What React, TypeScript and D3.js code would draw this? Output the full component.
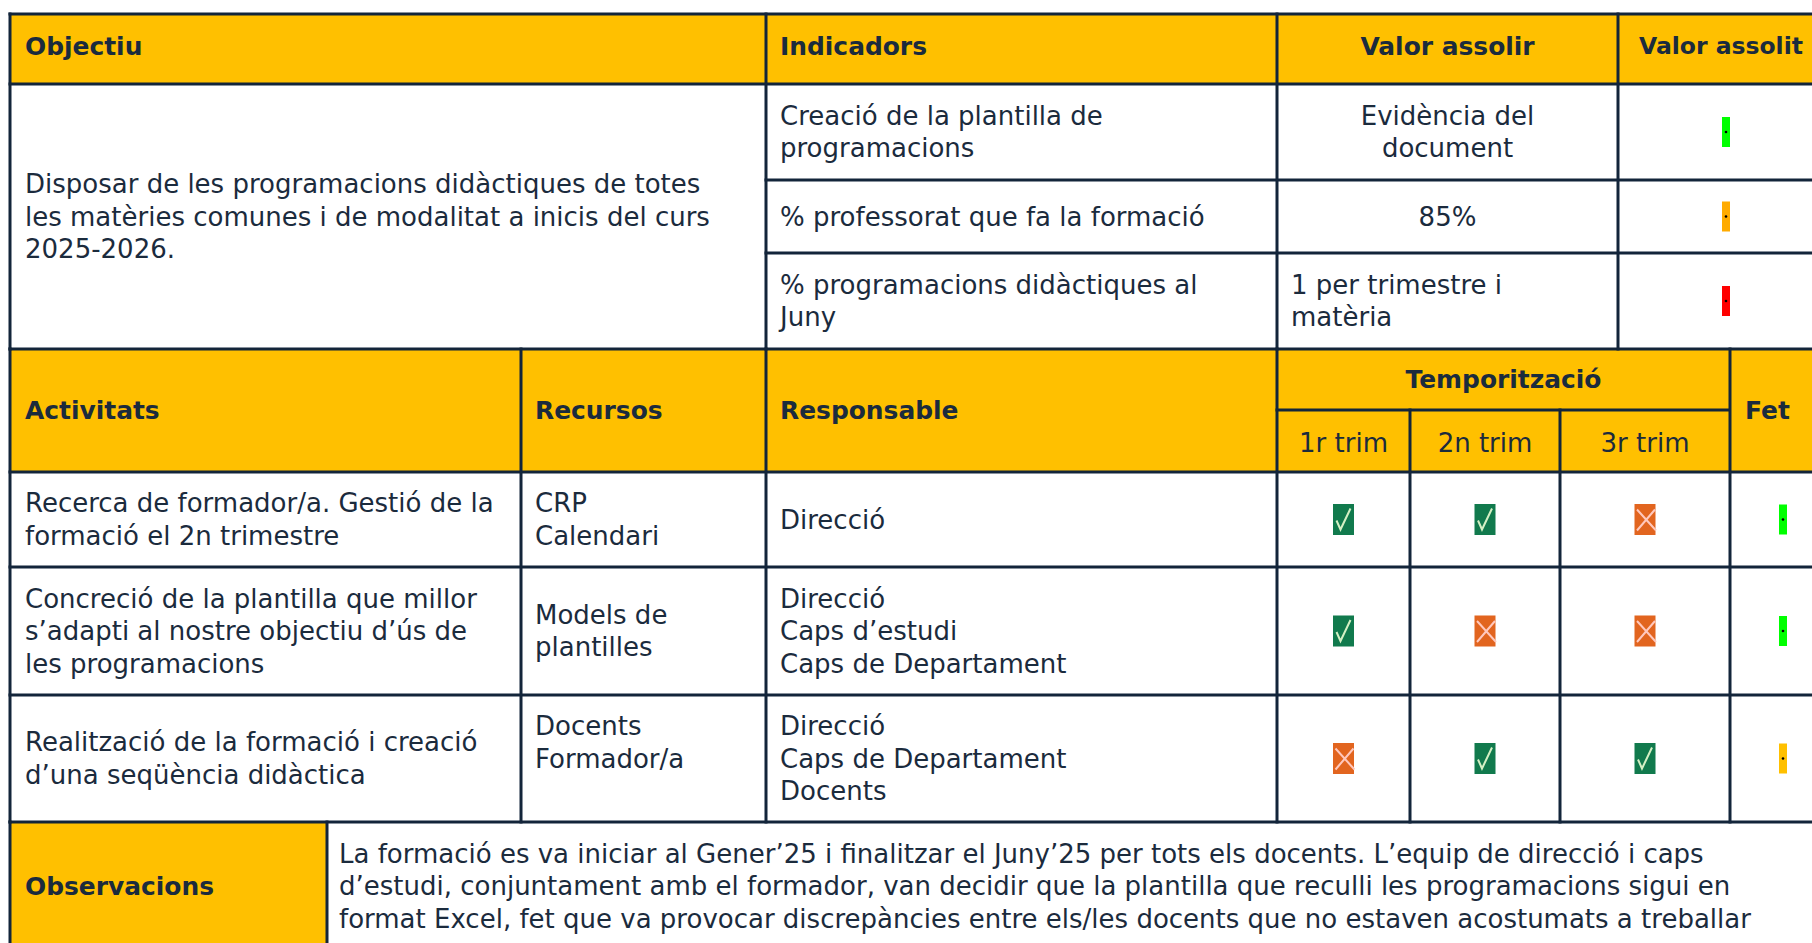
import React, { useMemo } from 'react';
import * as d3 from 'd3';

// ---- table content ----
const objectiuLines = [
  'Disposar de les programacions didàctiques de totes',
  'les matèries comunes i de modalitat a inicis del curs',
  '2025-2026.',
];
const indicadorLines = [
  ['Creació de la plantilla de', 'programacions'],
  ['% professorat que fa la formació'],
  ['% programacions didàctiques al', 'Juny'],
];
const valorAssolirLines = [['Evidència del', 'document'], ['85%'], ['1 per trimestre i', 'matèria']];
const valorAssolirAlign = ['middle', 'middle', 'start'];
const valorAssolit = ['verd', 'taronja', 'vermell'];

const activitatLines = [
  ['Recerca de formador/a. Gestió de la', 'formació el 2n trimestre'],
  ['Concreció de la plantilla que millor', 's’adapti al nostre objectiu d’ús de', 'les programacions'],
  ['Realització de la formació i creació', 'd’una seqüència didàctica'],
];
const recursLines = [['CRP', 'Calendari'], ['Models de', 'plantilles'], ['Docents', 'Formador/a', '']];
const responsableLines = [
  ['Direcció'],
  ['Direcció', 'Caps d’estudi', 'Caps de Departament'],
  ['Direcció', 'Caps de Departament', 'Docents'],
];
const trimestres = ['1r trim', '2n trim', '3r trim'];
const temporitzacio = [
  [true, true, false],
  [true, false, false],
  [false, true, true],
];
const fet = ['verd', 'verd', 'groc'];

const observacioLines = [
  'La formació es va iniciar al Gener’25 i finalitzar el Juny’25 per tots els docents. L’equip de direcció i caps',
  'd’estudi, conjuntament amb el formador, van decidir que la plantilla que reculli les programacions sigui en',
  'format Excel, fet que va provocar discrepàncies entre els/les docents que no estaven acostumats a treballar',
];

// ---- layout ----
const W = 1812;
const H = 943;
const LINE = 32.5;
const PAD = 14;
const topCols = [10, 766, 1277, 1618, 1860];
const topRows = [14, 84, 180, 253, 349];
const actCols = [10, 521, 766, 1277, 1410, 1560, 1730, 1860];
const actRows = [349, 472, 567, 695, 822];
const tempSplit = 410;
const obsCols = [10, 327, 1860];
const obsRows = [822, 950];

const YELLOW = '#ffc000';
const INK = '#1b2b3d';
const RULE = '#13253a';
const FONT = '"DejaVu Sans", sans-serif';

const statusColor = d3
  .scaleOrdinal<string, string>()
  .domain(['verd', 'taronja', 'vermell', 'groc'])
  .range(['#00ff00', '#ffab00', '#ff0000', '#ffc000']);

const fitSize = (text: string, weight: number, target: number) => {
  const ctx = document.createElement('canvas').getContext('2d');
  if (!ctx) return 22;
  ctx.font = `${weight} 100px "DejaVu Sans"`;
  return (100 * target) / ctx.measureText(text).width;
};

const Cell = ({ lines, x, cy, size, bold = false, anchor = 'start' }: any) => (
  <text
    fontFamily={FONT}
    fontSize={size}
    fontWeight={bold ? 700 : 400}
    fill={INK}
    textAnchor={anchor}
  >
    {lines.map((l: string, i: number) => (
      <tspan key={i} x={x} y={cy + (i - (lines.length - 1) / 2) * LINE} dominantBaseline="central">
        {l}
      </tspan>
    ))}
  </text>
);

const Pill = ({ cx, cy, status }: any) => (
  <g>
    <rect x={cx - 4} y={cy - 15} width={8} height={30} fill={statusColor(status)} />
    <circle cx={cx} cy={cy} r={1.3} fill="#000" />
  </g>
);

const Mark = ({ cx, cy, ok }: any) =>
  ok ? (
    <g>
      <rect x={cx - 10.5} y={cy - 15.5} width={21} height={31} fill="#117a4d" />
      <path
        d={`M${cx - 7},${cy + 1} L${cx - 3},${cy + 10} L${cx + 7},${cy - 11}`}
        fill="none"
        stroke="#d4f0c4"
        strokeWidth={2}
      />
    </g>
  ) : (
    <g>
      <rect x={cx - 10.5} y={cy - 15.5} width={21} height={31} fill="#e2651f" />
      <path
        d={`M${cx - 8},${cy - 10} L${cx + 11},${cy + 11} M${cx + 10},${cy - 10} L${cx - 8},${cy + 11}`}
        fill="none"
        stroke="#ffc8bd"
        strokeWidth={2}
      />
    </g>
  );

const mid = (a: number, b: number) => (a + b) / 2;

export default function App() {
  const body = useMemo(() => fitSize('% professorat que fa la formació', 400, 425), []);
  const bold = useMemo(() => fitSize('Temporització', 700, 196), []);
  const edgeBold = useMemo(() => fitSize('Valor assolit', 700, 164), []);

  const hLines: [number, number, number][] = [
    [topRows[0], topCols[0], W + 20],
    [topRows[1], topCols[0], W + 20],
    [topRows[2], topCols[1], W + 20],
    [topRows[3], topCols[1], W + 20],
    [topRows[4], topCols[0], W + 20],
    [tempSplit, actCols[3], actCols[6]],
    ...actRows.slice(1).map((y) => [y, actCols[0], W + 20] as [number, number, number]),
  ];
  const vLines: [number, number, number][] = [
    ...topCols.slice(0, 4).map((x) => [x, topRows[0], topRows[4]] as [number, number, number]),
    ...[0, 1, 2, 3, 6].map((i) => [actCols[i], actRows[0], actRows[4]] as [number, number, number]),
    [actCols[4], tempSplit, actRows[4]],
    [actCols[5], tempSplit, actRows[4]],
    ...obsCols.slice(0, 2).map((x) => [x, obsRows[0], obsRows[1]] as [number, number, number]),
  ];

  const headY = mid(topRows[0], topRows[1]) - 3;

  return (
    <svg
      width={W}
      height={H}
      style={{ position: 'absolute', left: 0, top: 0, display: 'block', background: '#fff' }}
    >
      {/* header fills */}
      <rect x={topCols[0]} y={topRows[0]} width={W} height={topRows[1] - topRows[0]} fill={YELLOW} />
      <rect x={actCols[0]} y={actRows[0]} width={W} height={actRows[1] - actRows[0]} fill={YELLOW} />
      <rect
        x={obsCols[0]}
        y={obsRows[0]}
        width={obsCols[1] - obsCols[0]}
        height={obsRows[1] - obsRows[0]}
        fill={YELLOW}
      />

      {/* top header */}
      <Cell lines={['Objectiu']} x={topCols[0] + PAD + 1} cy={headY} size={bold} bold />
      <Cell lines={['Indicadors']} x={topCols[1] + PAD} cy={headY} size={bold} bold />
      <Cell
        lines={['Valor assolir']}
        x={mid(topCols[2], topCols[3])}
        cy={headY}
        size={bold}
        bold
        anchor="middle"
      />
      <Cell lines={['Valor assolit']} x={topCols[3] + 21} cy={headY} size={edgeBold} bold />

      {/* objectiu */}
      <Cell lines={objectiuLines} x={topCols[0] + PAD + 1} cy={mid(topRows[1], topRows[4])} size={body} />
      {indicadorLines.map((ls, r) => (
        <Cell key={r} lines={ls} x={topCols[1] + PAD} cy={mid(topRows[r + 1], topRows[r + 2])} size={body} />
      ))}
      {valorAssolirLines.map((ls, r) => (
        <Cell
          key={r}
          lines={ls}
          x={valorAssolirAlign[r] === 'middle' ? mid(topCols[2], topCols[3]) : topCols[2] + PAD}
          cy={mid(topRows[r + 1], topRows[r + 2])}
          size={body}
          anchor={valorAssolirAlign[r]}
        />
      ))}
      {valorAssolit.map((s, r) => (
        <Pill key={r} cx={1726} cy={mid(topRows[r + 1], topRows[r + 2])} status={s} />
      ))}

      {/* activities header */}
      {['Activitats', 'Recursos', 'Responsable'].map((t, i) => (
        <Cell
          key={t}
          lines={[t]}
          x={actCols[i] + PAD + (i === 0 ? 1 : 0)}
          cy={mid(actRows[0], actRows[1])}
          size={bold}
          bold
        />
      ))}
      <Cell
        lines={['Temporització']}
        x={mid(actCols[3], actCols[6])}
        cy={mid(actRows[0], tempSplit)}
        size={bold}
        bold
        anchor="middle"
      />
      {trimestres.map((t, i) => (
        <Cell
          key={t}
          lines={[t]}
          x={mid(actCols[3 + i], actCols[4 + i])}
          cy={mid(tempSplit, actRows[1]) + 2}
          size={body}
          anchor="middle"
        />
      ))}
      <Cell lines={['Fet']} x={actCols[6] + PAD + 1} cy={mid(actRows[0], actRows[1])} size={bold} bold />

      {/* activities rows */}
      {activitatLines.map((ls, r) => {
        const cy = mid(actRows[r + 1], actRows[r + 2]);
        return (
          <g key={r}>
            <Cell lines={ls} x={actCols[0] + PAD + 1} cy={cy} size={body} />
            <Cell lines={recursLines[r]} x={actCols[1] + PAD} cy={cy} size={body} />
            <Cell lines={responsableLines[r]} x={actCols[2] + PAD} cy={cy} size={body} />
            {temporitzacio[r].map((ok, c) => (
              <Mark key={c} cx={mid(actCols[3 + c], actCols[4 + c])} cy={cy} ok={ok} />
            ))}
            <Pill cx={1783} cy={cy} status={fet[r]} />
          </g>
        );
      })}

      {/* observacions */}
      <Cell
        lines={['Observacions']}
        x={obsCols[0] + PAD + 1}
        cy={mid(obsRows[0], obsRows[1])}
        size={bold}
        bold
      />
      <Cell lines={observacioLines} x={obsCols[1] + 12} cy={mid(obsRows[0], obsRows[1])} size={body} />

      {/* rules */}
      {hLines.map(([y, x1, x2], i) => (
        <line key={`h${i}`} x1={x1 - 1.5} x2={x2} y1={y} y2={y} stroke={RULE} strokeWidth={3} />
      ))}
      {vLines.map(([x, y1, y2], i) => (
        <line key={`v${i}`} x1={x} x2={x} y1={y1 - 1.5} y2={y2 + 1.5} stroke={RULE} strokeWidth={3} />
      ))}
    </svg>
  );
}
